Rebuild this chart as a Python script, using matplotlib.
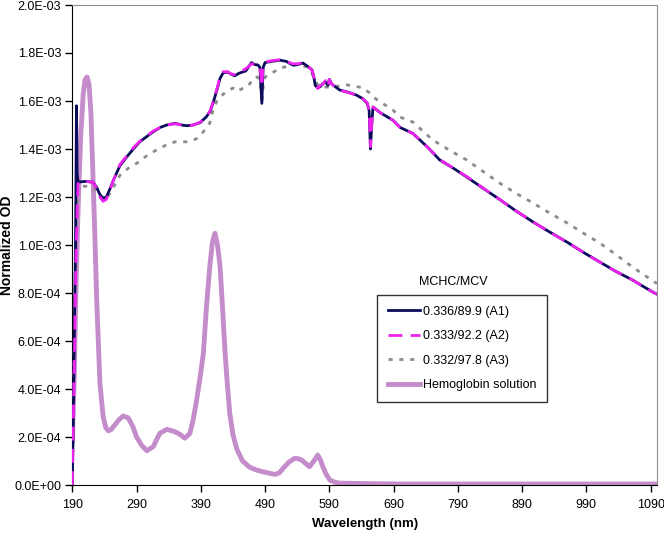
import matplotlib.pyplot as plt
import numpy as np
from matplotlib.ticker import FuncFormatter

plt.rcParams['font.family'] = ['Liberation Sans', 'DejaVu Sans']

# values, OD in units of 1E-03
a1_nm = [190, 192, 193.5, 195, 196.5, 197.5, 199, 210, 222, 228, 233, 238, 243, 248, 254,
         264, 275, 285, 295, 305, 316, 327, 337, 350, 360, 368, 378, 389, 399, 405, 410,
         415, 420, 425, 432, 437, 443, 449, 454, 460, 465, 469, 474, 479, 482, 485, 487,
         490, 500, 513, 523, 533, 541, 549, 556, 563, 566, 568, 572, 576, 580, 584, 588,
         590, 594, 599, 606, 620, 632, 642, 649, 652, 654, 656, 658, 670, 689, 700, 720,
         742, 762, 783, 804, 830, 855, 880, 907, 933, 960, 985, 1011, 1036, 1062, 1080,
         1096, 1100]
a1_od = [0.0, 0.35, 0.70, 1.0, 1.58, 1.30, 1.262, 1.265, 1.262, 1.24, 1.21, 1.195, 1.20,
         1.23, 1.27, 1.33, 1.368, 1.40, 1.43, 1.45, 1.472, 1.49, 1.50, 1.507, 1.50, 1.497,
         1.50, 1.51, 1.535, 1.56, 1.60, 1.645, 1.695, 1.718, 1.72, 1.712, 1.705, 1.715,
         1.72, 1.725, 1.745, 1.76, 1.752, 1.75, 1.74, 1.59, 1.74, 1.76, 1.765, 1.77, 1.765,
         1.75, 1.752, 1.758, 1.745, 1.73, 1.70, 1.665, 1.655, 1.66, 1.672, 1.68, 1.665,
         1.69, 1.67, 1.66, 1.646, 1.636, 1.625, 1.61, 1.59, 1.56, 1.40, 1.50, 1.575, 1.55,
         1.52, 1.49, 1.465, 1.41, 1.354, 1.32, 1.283, 1.235, 1.19, 1.143, 1.096, 1.054,
         1.012, 0.97, 0.929, 0.89, 0.854, 0.825, 0.80, 0.795]

a2_nm = [190, 193, 196, 199, 210, 222, 228, 233, 238, 243, 248, 254, 264, 275, 285, 295,
         305, 316, 327, 337, 350, 360, 368, 378, 389, 399, 405, 410, 415, 420, 425, 432,
         437, 443, 449, 454, 460, 465, 469, 474, 479, 482, 485, 487, 490, 500, 513, 523,
         533, 541, 549, 556, 563, 566, 568, 572, 576, 580, 584, 588, 590, 594, 599, 606,
         620, 632, 642, 649, 652, 654, 656, 658, 670, 689, 700, 720, 742, 762, 783, 804,
         830, 855, 880, 907, 933, 960, 985, 1011, 1036, 1062, 1080, 1096, 1100]
a2_od = [0.0, 0.5, 1.0, 1.262, 1.265, 1.262, 1.235, 1.20, 1.182, 1.19, 1.225, 1.27, 1.335,
         1.372, 1.405, 1.432, 1.452, 1.475, 1.49, 1.50, 1.505, 1.50, 1.495, 1.50, 1.512,
         1.535, 1.562, 1.605, 1.65, 1.70, 1.722, 1.722, 1.713, 1.71, 1.718, 1.725, 1.735,
         1.745, 1.755, 1.752, 1.75, 1.745, 1.66, 1.745, 1.762, 1.768, 1.772, 1.765, 1.755,
         1.755, 1.76, 1.745, 1.73, 1.70, 1.668, 1.652, 1.665, 1.67, 1.685, 1.66, 1.69,
         1.67, 1.66, 1.645, 1.635, 1.625, 1.61, 1.592, 1.56, 1.41, 1.50, 1.575, 1.55, 1.52,
         1.49, 1.465, 1.41, 1.356, 1.32, 1.285, 1.236, 1.19, 1.143, 1.096, 1.054, 1.012,
         0.97, 0.929, 0.89, 0.854, 0.825, 0.80, 0.795]

a3_nm = [190, 193, 196, 199, 210, 221, 228, 235, 241, 250, 264, 277, 290, 305, 321, 335,
         350, 368, 378, 384, 392, 399, 404, 409, 415, 420, 430, 440, 446, 455, 462, 467,
         472, 478, 482, 485, 488, 493, 503, 513, 527, 540, 556, 562, 565, 570, 576, 591,
         605, 617, 630, 643, 652, 658, 670, 689, 700, 720, 751, 777, 804, 830, 855, 881,
         907, 933, 960, 985, 1011, 1036, 1062, 1080, 1096, 1100]
a3_od = [0.0, 0.6, 1.05, 1.243, 1.245, 1.243, 1.225, 1.195, 1.188, 1.22, 1.29, 1.32, 1.34,
         1.37, 1.396, 1.415, 1.43, 1.43, 1.437, 1.444, 1.465, 1.49, 1.508, 1.5625, 1.60,
         1.617, 1.64, 1.654, 1.64, 1.652, 1.658, 1.675, 1.696, 1.70, 1.69, 1.59, 1.69,
         1.708, 1.72, 1.7375, 1.745, 1.75, 1.742, 1.725, 1.70, 1.675, 1.658, 1.658, 1.662,
         1.667, 1.662, 1.654, 1.635, 1.617, 1.595, 1.5625, 1.533, 1.5125, 1.4375, 1.395,
         1.354, 1.305, 1.258, 1.215, 1.175, 1.133, 1.092, 1.05, 1.008, 0.96, 0.908, 0.875,
         0.846, 0.84]

hb_nm = [190, 193, 196, 199, 203, 207, 210, 213, 216, 219, 222, 225, 228, 233, 238, 242,
         246, 250, 254, 262, 269, 277, 284, 290, 298, 306, 316, 326, 337, 350, 358, 365,
         373, 378, 383.5, 389, 394, 399, 404, 408, 412, 416, 420, 424, 427.5, 431, 435,
         440, 446, 455, 466, 477, 487, 497, 505, 512, 518, 527, 536, 541, 547, 553, 559,
         566, 572, 576, 580, 585, 591, 598, 605, 640, 700, 800, 900, 1000, 1100]
hb_od = [0.18, 0.45, 0.85, 1.15, 1.45, 1.63, 1.69, 1.70, 1.67, 1.55, 1.30, 1.05, 0.77,
         0.424, 0.285, 0.24, 0.226, 0.23, 0.243, 0.27, 0.2875, 0.28, 0.245, 0.20, 0.165,
         0.143, 0.16, 0.215, 0.232, 0.222, 0.21, 0.195, 0.215, 0.27, 0.354, 0.45, 0.549,
         0.75, 0.91, 1.01, 1.049, 1.00, 0.91, 0.73, 0.5625, 0.43, 0.30, 0.21, 0.15, 0.10,
         0.074, 0.062, 0.055, 0.049, 0.044, 0.05, 0.069, 0.095, 0.111, 0.11, 0.104, 0.09,
         0.076, 0.10, 0.125, 0.105, 0.076, 0.045, 0.02, 0.012, 0.008, 0.006, 0.004, 0.004,
         0.004, 0.004, 0.004]

labels = ["0.336/89.9 (A1)", "0.333/92.2 (A2)", "0.332/97.8 (A3)", "Hemoglobin solution"]

fig = plt.figure(figsize=(6.64, 5.36), dpi=100)
ax = fig.add_axes([72.3/664, 1 - 485/536, (657 - 72.3)/664, 480/536])

ax.plot(hb_nm, np.array(hb_od)*1e-3, color="#c58ccb", lw=3.5, label=labels[3], zorder=2)
ax.plot(a3_nm, np.array(a3_od)*1e-3, color="#8c8c8c", lw=2, ls=(0, (1.5, 2.4)),
        label=labels[2], zorder=3)
ax.plot(a1_nm, np.array(a1_od)*1e-3, color="#0c0c5c", lw=2, label=labels[0], zorder=4)
ax.plot(a2_nm, np.array(a2_od)*1e-3, color="#ee22ee", lw=2, ls=(0, (5, 3)),
        label=labels[1], zorder=5)

ax.set_xlim(190, 1100)
ax.set_ylim(0, 2.0e-3)
ax.set_xticks(np.arange(190, 1091, 100))
ax.set_yticks(np.arange(0, 2.01e-3, 0.2e-3))
ax.yaxis.set_major_formatter(FuncFormatter(lambda v, p: f"{v:.1E}"))
ax.tick_params(direction="out", length=5, width=1, labelsize=9, colors="black")
ax.tick_params(axis="x", pad=5)
ax.tick_params(axis="y", pad=3)
for s in ["top", "right"]:
    ax.spines[s].set_color("#909090")
for s in ["left", "bottom"]:
    ax.spines[s].set_color("black")

ax.set_xlabel("Wavelength (nm)", fontsize=9.5, fontweight="bold")
ax.set_ylabel("Normalized OD", fontsize=10, fontweight="bold")
ax.xaxis.set_label_coords(0.5, (485 - 518) / 480)
ax.yaxis.set_label_coords((14 - 72.3) / 584.7, 0.5)

h, l = ax.get_legend_handles_labels()
order = [2, 3, 1, 0]
leg = ax.legend([h[i] for i in order], [l[i] for i in order],
                loc="upper left", bbox_to_anchor=(377/664, 1 - 295/536),
                bbox_transform=fig.transFigure, borderaxespad=0, fontsize=9,
                frameon=True, fancybox=False, handlelength=2.56, handletextpad=0.24,
                labelspacing=1.0, borderpad=0.85)
leg.get_frame().set_edgecolor("black")
leg.get_frame().set_linewidth(1)
fig.text(453/664, 1 - 282/536, "MCHC/MCV", ha="center", va="center", fontsize=9)

fig.savefig("out.png", dpi=100)
